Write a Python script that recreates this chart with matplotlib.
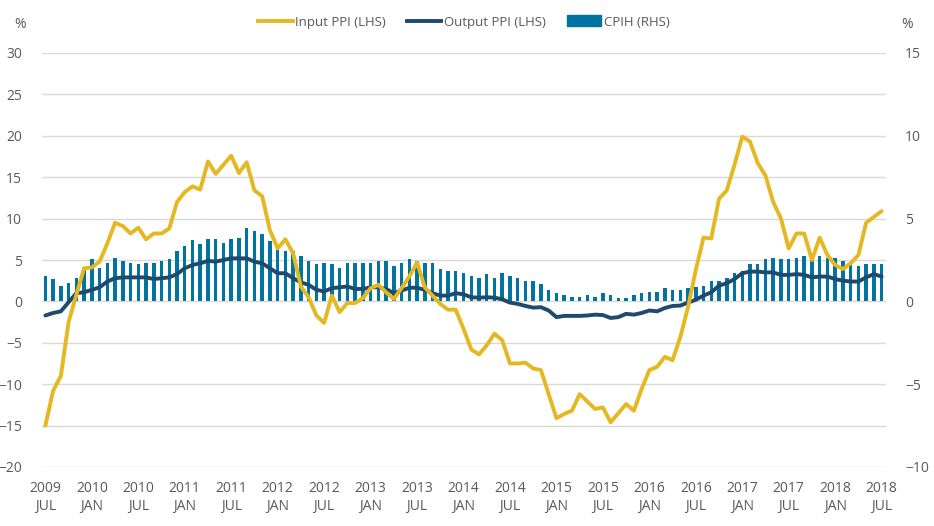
import matplotlib
matplotlib.use("Agg")
import matplotlib.pyplot as plt
from matplotlib.patches import Patch
from matplotlib.lines import Line2D

plt.rcParams['font.family'] = ['Open Sans', 'DejaVu Sans']

# Monthly, July 2009 to July 2018
input_ppi = [
    -15.0, -10.8, -9.0, -2.5, 0.8, 4.0, 4.1, 4.8, 7.0, 9.5, 9.1, 8.2,
    8.9, 7.5, 8.2, 8.2, 8.8, 12.0, 13.2, 13.9, 13.5, 16.9, 15.4, 16.5,
    17.6, 15.5, 16.8, 13.4, 12.7, 8.6, 6.4, 7.5, 5.8, 1.8, 0.5, -1.7,
    -2.6, 0.7, -1.3, -0.2, -0.2, 0.4, 1.6, 2.0, 1.1, 0.3, 1.6, 3.0,
    4.7, 1.7, 0.7, -0.3, -1.0, -1.0, -3.3, -5.8, -6.4, -5.3, -3.9, -4.7,
    -7.5, -7.5, -7.4, -8.1, -8.3, -11.2, -14.1, -13.6, -13.2, -11.2, -12.1, -13.0,
    -12.8, -14.6, -13.5, -12.4, -13.2, -10.6, -8.3, -7.9, -6.7, -7.1, -4.3, -0.7,
    3.8, 7.7, 7.6, 12.4, 13.4, 16.5, 19.9, 19.3, 16.7, 15.2, 12.0, 10.0,
    6.4, 8.2, 8.2, 5.0, 7.7, 5.6, 4.4, 3.9, 4.6, 5.6, 9.5, 10.2,
    10.9,
]
output_ppi = [
    -1.7, -1.4, -1.2, -0.1, 1.0, 1.1, 1.4, 1.7, 2.4, 2.8, 2.9, 2.9,
    2.9, 2.9, 2.7, 2.8, 2.9, 3.3, 4.0, 4.4, 4.6, 4.9, 4.8, 5.0,
    5.2, 5.2, 5.2, 4.8, 4.6, 4.0, 3.4, 3.4, 2.8, 2.3, 2.0, 1.4,
    1.2, 1.6, 1.7, 1.8, 1.5, 1.5, 1.7, 1.7, 1.5, 1.0, 1.3, 1.65,
    1.65, 1.4, 1.0, 0.7, 0.7, 1.0, 0.85, 0.5, 0.45, 0.5, 0.45, 0.25,
    -0.15, -0.3, -0.55, -0.75, -0.7, -1.1, -1.9, -1.75, -1.75, -1.75, -1.7, -1.6,
    -1.65, -2.0, -1.9, -1.5, -1.6, -1.4, -1.1, -1.2, -0.8, -0.55, -0.5, -0.15,
    0.2, 0.7, 1.1, 1.9, 2.2, 2.7, 3.4, 3.6, 3.6, 3.5, 3.5, 3.2,
    3.2, 3.3, 3.2, 2.9, 3.0, 3.0, 2.7, 2.5, 2.4, 2.4, 2.9, 3.3,
    3.0,
]
cpih = [
    1.55, 1.37, 0.95, 1.13, 1.43, 2.04, 2.58, 2.04, 2.34, 2.64, 2.46, 2.34,
    2.28, 2.34, 2.34, 2.46, 2.58, 3.06, 3.37, 3.69, 3.49, 3.79, 3.79, 3.55,
    3.79, 3.85, 4.44, 4.27, 4.07, 3.67, 3.25, 3.06, 3.06, 2.76, 2.46, 2.28,
    2.34, 2.28, 2.04, 2.34, 2.34, 2.34, 2.34, 2.46, 2.46, 2.16, 2.34, 2.58,
    2.46, 2.34, 2.34, 1.98, 1.85, 1.85, 1.73, 1.55, 1.43, 1.67, 1.43, 1.73,
    1.55, 1.43, 1.25, 1.25, 1.07, 0.67, 0.5, 0.38, 0.26, 0.26, 0.38, 0.26,
    0.5, 0.38, 0.2, 0.2, 0.38, 0.5, 0.56, 0.56, 0.8, 0.69, 0.69, 0.8,
    0.87, 0.95, 1.25, 1.25, 1.43, 1.73, 1.85, 2.28, 2.28, 2.58, 2.64, 2.58,
    2.58, 2.64, 2.76, 2.7, 2.76, 2.64, 2.64, 2.46, 2.28, 2.16, 2.28, 2.28,
    2.28,
]
tick_labels = [
    "2009\nJUL", "2010\nJAN", "2010\nJUL", "2011\nJAN", "2011\nJUL", "2012\nJAN",
    "2012\nJUL", "2013\nJAN", "2013\nJUL", "2014\nJAN", "2014\nJUL", "2015\nJAN",
    "2015\nJUL", "2016\nJAN", "2016\nJUL", "2017\nJAN", "2017\nJUL", "2018\nJAN",
    "2018\nJUL",
]

yellow = '#E5B822'
navy = '#1F4A6E'
blue = '#0073A0'
grey_text = '#595959'

months = list(range(len(input_ppi)))

fig = plt.figure(figsize=(9.34, 5.26), dpi=100)
ax = fig.add_axes([41.5 / 934, 1 - 467 / 526, 844 / 934, 414 / 526])
ax2 = ax.twinx()

# lines on the left axis sit above the bars of the right axis
ax.set_zorder(ax2.get_zorder() + 1)
ax.patch.set_visible(False)

# gridlines every 5 on the LHS = every 2.5 on the RHS, drawn under the bars
for k in range(11):
    ax2.axhline(-10 + 2.5 * k, color='#D9D9D9', lw=1, zorder=0)
ax2.bar(months, cpih, width=0.45, color=blue, zorder=2)

ax.plot(months, output_ppi, color=navy, lw=2.8, solid_capstyle='round', zorder=3)
ax.plot(months, input_ppi, color=yellow, lw=2.8, solid_capstyle='round', zorder=4)

ax.set_xlim(-0.5, len(months) - 0.5)
ax.set_ylim(-20, 30)
ax2.set_ylim(-10, 15)
ax.set_yticks(range(-20, 31, 5))
ax2.set_yticks(range(-10, 16, 5))
ax.set_xticks(months[::6])
ax.set_xticklabels(tick_labels)

for a in (ax, ax2):
    for s in a.spines.values():
        s.set_visible(False)
    a.tick_params(length=0, labelsize=10, colors=grey_text)
ax.tick_params(axis='y', pad=14)
ax2.tick_params(axis='y', pad=14)
ax.tick_params(axis='x', pad=10)
for t in ax.get_xticklabels():
    t.set_linespacing(1.3)

fig.text(20 / 934, 1 - 25 / 526, '%', fontsize=10, color=grey_text, ha='center', va='center')
fig.text(907 / 934, 1 - 25 / 526, '%', fontsize=10, color=grey_text, ha='center', va='center')

handles = [
    Line2D([0], [0], color=yellow, lw=2.8),
    Line2D([0], [0], color=navy, lw=2.8),
    Patch(color=blue),
]
fig.legend(handles, ['Input PPI (LHS)', 'Output PPI (LHS)', 'CPIH (RHS)'],
           loc='center', bbox_to_anchor=(464 / 934, 1 - 22 / 526), ncol=3,
           frameon=False, fontsize=9.5, labelcolor=grey_text,
           handlelength=2.6, handletextpad=0.2, columnspacing=1.6,
           handleheight=0.9)

fig.savefig('out.png', dpi=100)
